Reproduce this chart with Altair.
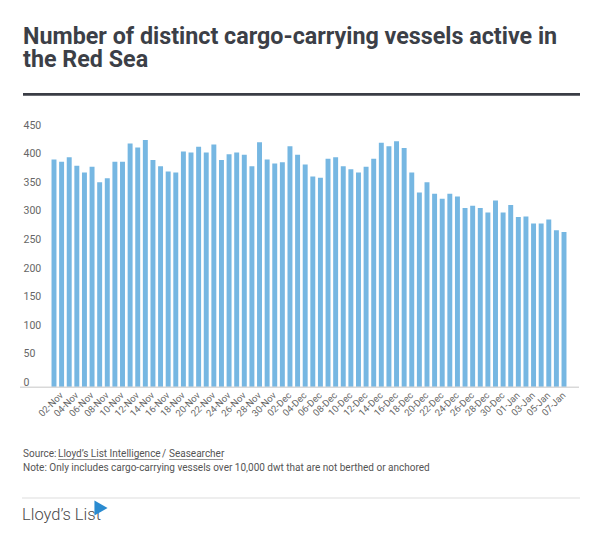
import altair as alt
import pandas as pd

dates = [
    "01-Nov", "02-Nov", "03-Nov", "04-Nov", "05-Nov", "06-Nov", "07-Nov", "08-Nov", "09-Nov", "10-Nov",
    "11-Nov", "12-Nov", "13-Nov", "14-Nov", "15-Nov", "16-Nov", "17-Nov", "18-Nov", "19-Nov", "20-Nov",
    "21-Nov", "22-Nov", "23-Nov", "24-Nov", "25-Nov", "26-Nov", "27-Nov", "28-Nov", "29-Nov", "30-Nov",
    "01-Dec", "02-Dec", "03-Dec", "04-Dec", "05-Dec", "06-Dec", "07-Dec", "08-Dec", "09-Dec", "10-Dec",
    "11-Dec", "12-Dec", "13-Dec", "14-Dec", "15-Dec", "16-Dec", "17-Dec", "18-Dec", "19-Dec", "20-Dec",
    "21-Dec", "22-Dec", "23-Dec", "24-Dec", "25-Dec", "26-Dec", "27-Dec", "28-Dec", "29-Dec", "30-Dec",
    "31-Dec", "01-Jan", "02-Jan", "03-Jan", "04-Jan", "05-Jan", "06-Jan", "07-Jan",
]
vessels = [
    399, 395, 403, 388, 376, 386, 359, 366, 395, 395,
    427, 420, 433, 398, 387, 378, 376, 413, 411, 421,
    411, 425, 398, 408, 411, 407, 387, 429, 399, 392,
    394, 422, 407, 390, 369, 367, 400, 403, 387, 382,
    376, 386, 400, 428, 422, 431, 419, 376, 341, 359,
    339, 330, 339, 334, 314, 318, 314, 306, 327, 306,
    319, 298, 299, 287, 287, 294, 275, 272,
]
tick_labels = [
    "02-Nov", "04-Nov", "06-Nov", "08-Nov", "10-Nov", "12-Nov", "14-Nov", "16-Nov", "18-Nov",
    "20-Nov", "22-Nov", "24-Nov", "26-Nov", "28-Nov", "30-Nov", "02-Dec", "04-Dec", "06-Dec",
    "08-Dec", "10-Dec", "12-Dec", "14-Dec", "16-Dec", "18-Dec", "20-Dec", "22-Dec", "24-Dec",
    "26-Dec", "28-Dec", "30-Dec", "01-Jan", "03-Jan", "05-Jan", "07-Jan",
]
y_ticks = [0, 50, 100, 150, 200, 250, 300, 350, 400, 450]

title_lines = ["Number of distinct cargo-carrying vessels active in", "the Red Sea"]
source_parts = ["Source:", "Lloyd\u2019s List Intelligence", "/", "Seasearcher"]
note_text = "Note: Only includes cargo-carrying vessels over 10,000 dwt that are not berthed or anchored"
logo_text = "Lloyd\u2019s List"

FONT = "Roboto"
W, H = 518, 257
OX, OY = 50, 130.3  # page position of plot origin


def px(page_x):
    return page_x - OX


def py(page_y):
    return page_y - OY


df = pd.DataFrame({"date": dates, "vessels": vessels})

bars = alt.Chart(df).mark_bar(color="#76b7e2").encode(
    x=alt.X(
        "date:N",
        sort=dates,
        scale=alt.Scale(paddingInner=0.35, paddingOuter=0.2),
        axis=alt.Axis(
            values=tick_labels, labelAngle=-45, labelAlign="right", labelBaseline="middle",
            labelFontSize=9.5, labelColor="#666666", labelFont=FONT, ticks=False, domain=False,
            labelPadding=6, title=None, labelOverlap=False,
        ),
    ),
    y=alt.Y(
        "vessels:Q",
        scale=alt.Scale(domain=[0, 450], nice=False),
        axis=alt.Axis(
            values=y_ticks, grid=False, domain=False, ticks=False, labelAlign="left",
            labelBaseline="alphabetic", labelPadding=27, labelFontSize=10.5,
            labelColor="#666666", labelFont=FONT, labelOffset=-2, title=None,
        ),
    ),
)

one = pd.DataFrame({"k": [0]})

base_line = alt.Chart(one).mark_rule(color="#d9d9d9", strokeWidth=1.5).encode(
    x=alt.value(px(20)), x2=alt.value(px(579)), y=alt.value(py(387.3))
)
title_rule = alt.Chart(one).mark_rule(color="#3a3d45", strokeWidth=2.7).encode(
    x=alt.value(px(23)), x2=alt.value(px(580)), y=alt.value(py(94.3))
)
footer_rule = alt.Chart(one).mark_rule(color="#dddddd", strokeWidth=1).encode(
    x=alt.value(px(22)), x2=alt.value(px(580)), y=alt.value(py(498))
)


def text_layer(txt, page_x, page_y, size, color, weight="normal", font=FONT, line_height=None):
    kw = dict(align="left", baseline="alphabetic", fontSize=size, color=color,
              fontWeight=weight, font=font)
    if line_height is not None:
        kw["lineHeight"] = line_height
    return alt.Chart(one).mark_text(**kw).encode(
        text=alt.value(txt), x=alt.value(px(page_x)), y=alt.value(py(page_y))
    )


title = text_layer(title_lines, 23, 44.3, 23.3, "#3c3f47", "bold", line_height=22.7)

src0 = text_layer(source_parts[0], 23, 457, 10, "#555555")
src1 = text_layer(source_parts[1], 58, 457, 10, "#555555")
src2 = text_layer(source_parts[2], 162, 457, 10, "#555555")
src3 = text_layer(source_parts[3], 169, 457, 10, "#555555")
ul1 = alt.Chart(one).mark_rule(color="#777777", strokeWidth=0.8).encode(
    x=alt.value(px(58)), x2=alt.value(px(159)), y=alt.value(py(459.5))
)
ul2 = alt.Chart(one).mark_rule(color="#777777", strokeWidth=0.8).encode(
    x=alt.value(px(169)), x2=alt.value(px(223)), y=alt.value(py(459.5))
)
note = text_layer(note_text, 23, 471, 10, "#555555")

logo = text_layer(logo_text, 22, 520, 16.5, "#4a4a4a", 300)
logo_icon = alt.Chart(one).mark_point(
    shape="triangle-right", filled=True, size=230, color="#2a8bd0", opacity=1
).encode(x=alt.value(px(101)), y=alt.value(py(508)))

chart = alt.layer(
    bars, base_line, title_rule, footer_rule, title,
    src0, src1, src2, src3, ul1, ul2, note, logo, logo_icon,
).properties(
    width=W, height=H,
    autosize=alt.AutoSizeParams(type="none"),
    padding={"left": OX - 8, "top": OY - 8, "right": 602 - 16 - (OX - 8) - W, "bottom": 534 - 16 - (OY - 8) - H},
    background="white",
).configure_view(stroke=None)

chart.save("out.html", embed_options={"renderer": "svg", "actions": False})
